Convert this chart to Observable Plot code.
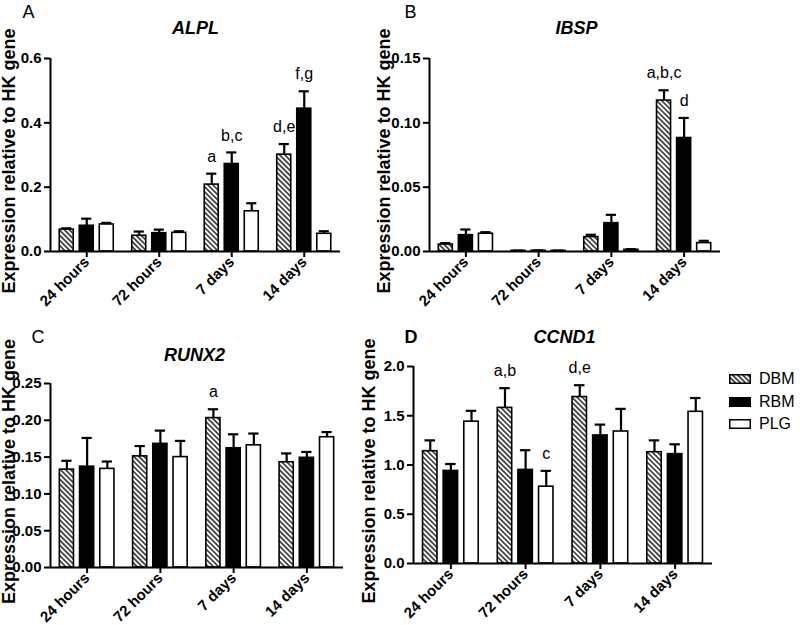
<!DOCTYPE html>
<html><head><meta charset="utf-8">
<script src="https://cdn.jsdelivr.net/npm/d3@7"></script>
<script src="https://cdn.jsdelivr.net/npm/@observablehq/plot@0.6"></script>
<style>
body{margin:0;background:#fff;font-family:"Liberation Sans",Arial,sans-serif;}
#root{position:relative;width:800px;height:625px;overflow:hidden;background:#fff;}
.panel{position:absolute;}
.legend{position:absolute;left:729px;top:368px;font-size:16px;color:#000;}
.legend .row{display:flex;align-items:center;height:22.5px;}
.legend svg{margin-right:8px;overflow:visible}
</style></head><body>
<svg width="0" height="0" style="position:absolute">
<defs><pattern id="hatch" patternUnits="userSpaceOnUse" width="3.6" height="3.6" patternTransform="rotate(-45)">
<rect width="3.6" height="3.6" fill="white"/><line x1="1.8" y1="0" x2="1.8" y2="3.6" stroke="black" stroke-width="1.3"/>
</pattern></defs></svg>
<div id="root"></div>
<script>
// ---- data ----
const times = ["24 hours", "72 hours", "7 days", "14 days"];
const groups = ["DBM", "RBM", "PLG"];

const alplDBM = [0.068, 0.049, 0.208, 0.301];
const alplDBMsem = [0.004, 0.013, 0.034, 0.033];
const alplRBM = [0.080, 0.057, 0.272, 0.444];
const alplRBMsem = [0.022, 0.011, 0.036, 0.054];
const alplPLG = [0.084, 0.058, 0.125, 0.055];
const alplPLGsem = [0.005, 0.005, 0.025, 0.008];

const ibspDBM = [0.0054, 0.0005, 0.0112, 0.1173];
const ibspDBMsem = [0.0011, 0.0002, 0.0018, 0.0080];
const ibspRBM = [0.0127, 0.0006, 0.0220, 0.0882];
const ibspRBMsem = [0.0044, 0.0002, 0.0065, 0.0156];
const ibspPLG = [0.0138, 0.0005, 0.0013, 0.0065];
const ibspPLGsem = [0.0012, 0.0002, 0.0005, 0.0018];

const runx2DBM = [0.133, 0.151, 0.203, 0.143];
const runx2DBMsem = [0.012, 0.014, 0.012, 0.012];
const runx2RBM = [0.137, 0.168, 0.162, 0.149];
const runx2RBMsem = [0.039, 0.018, 0.019, 0.008];
const runx2PLG = [0.134, 0.150, 0.166, 0.177];
const runx2PLGsem = [0.010, 0.022, 0.016, 0.007];

const ccnd1DBM = [1.14, 1.58, 1.69, 1.13];
const ccnd1DBMsem = [0.11, 0.20, 0.12, 0.12];
const ccnd1RBM = [0.94, 0.95, 1.30, 1.11];
const ccnd1RBMsem = [0.07, 0.20, 0.11, 0.10];
const ccnd1PLG = [1.44, 0.78, 1.34, 1.54];
const ccnd1PLGsem = [0.11, 0.16, 0.23, 0.14];

const alplLabels = [["7 days", "DBM", "a"], ["7 days", "RBM", "b,c"], ["14 days", "DBM", "d,e"], ["14 days", "RBM", "f,g"]];
const ibspLabels = [["14 days", "DBM", "a,b,c"], ["14 days", "RBM", "d"]];
const runx2Labels = [["7 days", "DBM", "a"]];
const ccnd1Labels = [["72 hours", "DBM", "a,b"], ["72 hours", "PLG", "c"], ["7 days", "DBM", "d,e"]];

const yLabel = "Expression relative to HK gene";

// ---- layout ----
const FONT = "'Liberation Sans', Arial, sans-serif";
const offsets = {DBM: -0.276, RBM: 0, PLG: 0.276};
const BW = 0.193, CAP = 0.07;
const fills = {DBM: "url(#hatch)", RBM: "black", PLG: "white"};

function rows(m, s) {
  const out = [];
  groups.forEach((g, gi) => m[gi].forEach((v, ti) => out.push({g, ti, mean: v, sem: s[gi][ti], pos: ti + offsets[g]})));
  return out;
}
function labelRows(labels, data) {
  return labels.map(([t, g, text]) => {
    const r = data.find(d => d.g === g && d.ti === times.indexOf(t));
    return {pos: r.pos, top: r.mean + r.sem, text};
  });
}

function panel(cfg) {
  const {left, top, width, height, mL, mR, mT, mB, yMax, yTicks, fmt, letter, letterBold, letterX, letterY, title, titleX, titleY, ylabX, ylabDy, data, labels} = cfg;
  const fx = left + mL, fy = top + mT;
  const marks = [
    Plot.ruleX(data, {x: "pos", y1: "mean", y2: d => d.mean + d.sem, strokeWidth: 2.2}),
    Plot.ruleY(data, {y: d => d.mean + d.sem, x1: d => d.pos - CAP, x2: d => d.pos + CAP, strokeWidth: 2.2}),
    ...groups.map(g => Plot.rectY(data.filter(d => d.g === g), {x1: d => d.pos - BW / 2, x2: d => d.pos + BW / 2, y1: 0, y2: "mean", fill: fills[g], stroke: "black", strokeWidth: 1.6})),
    Plot.ruleY([0], {strokeWidth: 2}),
    Plot.ruleX([-0.5], {strokeWidth: 2}),
    Plot.axisY({ticks: yTicks, tickFormat: fmt, tickSize: 6, tickPadding: 3, strokeWidth: 2, label: null}),
    Plot.axisX({ticks: [0, 1, 2, 3], tickFormat: i => times[i], tickRotate: -45, tickSize: 6, tickPadding: 2, strokeWidth: 2, label: null}),
    Plot.text(labelRows(labels, data), {x: "pos", y: "top", text: "text", dy: -17, lineAnchor: "middle", fontSize: 16, fontWeight: "normal"}),
    Plot.text([title], {frameAnchor: "top-left", dx: titleX - fx, dy: titleY - fy, textAnchor: "middle", lineAnchor: "bottom", fontSize: 18, fontWeight: "bold", fontStyle: "italic"}),
    Plot.text([letter], {frameAnchor: "top-left", dx: letterX - fx, dy: letterY - fy, textAnchor: "start", lineAnchor: "bottom", fontSize: 18, fontWeight: letterBold ? "bold" : "normal"}),
    Plot.text([yLabel], {frameAnchor: "left", dx: ylabX - fx, dy: ylabDy, rotate: -90, textAnchor: "middle", lineAnchor: "middle", fontSize: 18, fontWeight: "bold"})
  ];
  const chart = Plot.plot({
    width, height, marginLeft: mL, marginRight: mR, marginTop: mT, marginBottom: mB,
    x: {domain: [-0.5, 3.5]},
    y: {domain: [0, yMax]},
    style: {fontFamily: FONT, background: "transparent", overflow: "visible", color: "black", fontWeight: "bold"},
    marks
  });
  const yStrings = yTicks.map(v => fmt(v));
  d3.select(chart).selectAll("text").each(function () {
    const t = this.textContent.trim();
    if (times.includes(t)) d3.select(this).style("font-size", "15px").style("font-weight", "bold");
    else if (yStrings.includes(t)) d3.select(this).style("font-size", "15px").style("font-weight", "bold");
  });
  const div = document.createElement("div");
  div.className = "panel";
  div.style.left = left + "px";
  div.style.top = top + "px";
  div.appendChild(chart);
  document.getElementById("root").appendChild(div);
}

const dA = rows([alplDBM, alplRBM, alplPLG], [alplDBMsem, alplRBMsem, alplPLGsem]);
const dB = rows([ibspDBM, ibspRBM, ibspPLG], [ibspDBMsem, ibspRBMsem, ibspPLGsem]);
const dC = rows([runx2DBM, runx2RBM, runx2PLG], [runx2DBMsem, runx2RBMsem, runx2PLGsem]);
const dD = rows([ccnd1DBM, ccnd1RBM, ccnd1PLG], [ccnd1DBMsem, ccnd1RBMsem, ccnd1PLGsem]);

panel({left: 0, top: 0, width: 350, height: 310, mL: 50, mR: 10, mT: 58, mB: 59, yMax: 0.6, yTicks: [0, 0.2, 0.4, 0.6], fmt: d3.format(".1f"),
  letter: "A", letterX: 22, letterY: 17, title: "ALPL", titleX: 195, titleY: 33, ylabX: 9, ylabDy: 6, data: dA, labels: alplLabels});
panel({left: 360, top: 0, width: 370, height: 310, mL: 69, mR: 10, mT: 58, mB: 59, yMax: 0.15, yTicks: [0, 0.05, 0.10, 0.15], fmt: d3.format(".2f"),
  letter: "B", letterX: 404, letterY: 17, title: "IBSP", titleX: 576, titleY: 33, ylabX: 384, ylabDy: 6, data: dB, labels: ibspLabels});
panel({left: 0, top: 310, width: 353, height: 315, mL: 50, mR: 10, mT: 73, mB: 58, yMax: 0.25, yTicks: [0, 0.05, 0.10, 0.15, 0.20, 0.25], fmt: d3.format(".2f"),
  letter: "C", letterX: 31, letterY: 342, title: "RUNX2", titleX: 194, titleY: 360, ylabX: 9, ylabDy: -4, data: dC, labels: runx2Labels});
panel({left: 360, top: 310, width: 362, height: 315, mL: 53, mR: 10, mT: 56, mB: 62, yMax: 2.0, yTicks: [0, 0.5, 1.0, 1.5, 2.0], fmt: d3.format(".1f"),
  letter: "D", letterBold: true, letterX: 404, letterY: 342, title: "CCND1", titleX: 564, titleY: 342, ylabX: 369, ylabDy: 6, data: dD, labels: ccnd1Labels});

// legend
const leg = document.createElement("div");
leg.className = "legend";
groups.forEach(g => {
  const row = document.createElement("div");
  row.className = "row";
  row.innerHTML = `<svg width="22" height="10"><rect x="0.75" y="0.75" width="20.5" height="8.5" fill="${fills[g]}" stroke="black" stroke-width="1.5"/></svg><span>${g}</span>`;
  leg.appendChild(row);
});
document.getElementById("root").appendChild(leg);
</script>
</body></html>
